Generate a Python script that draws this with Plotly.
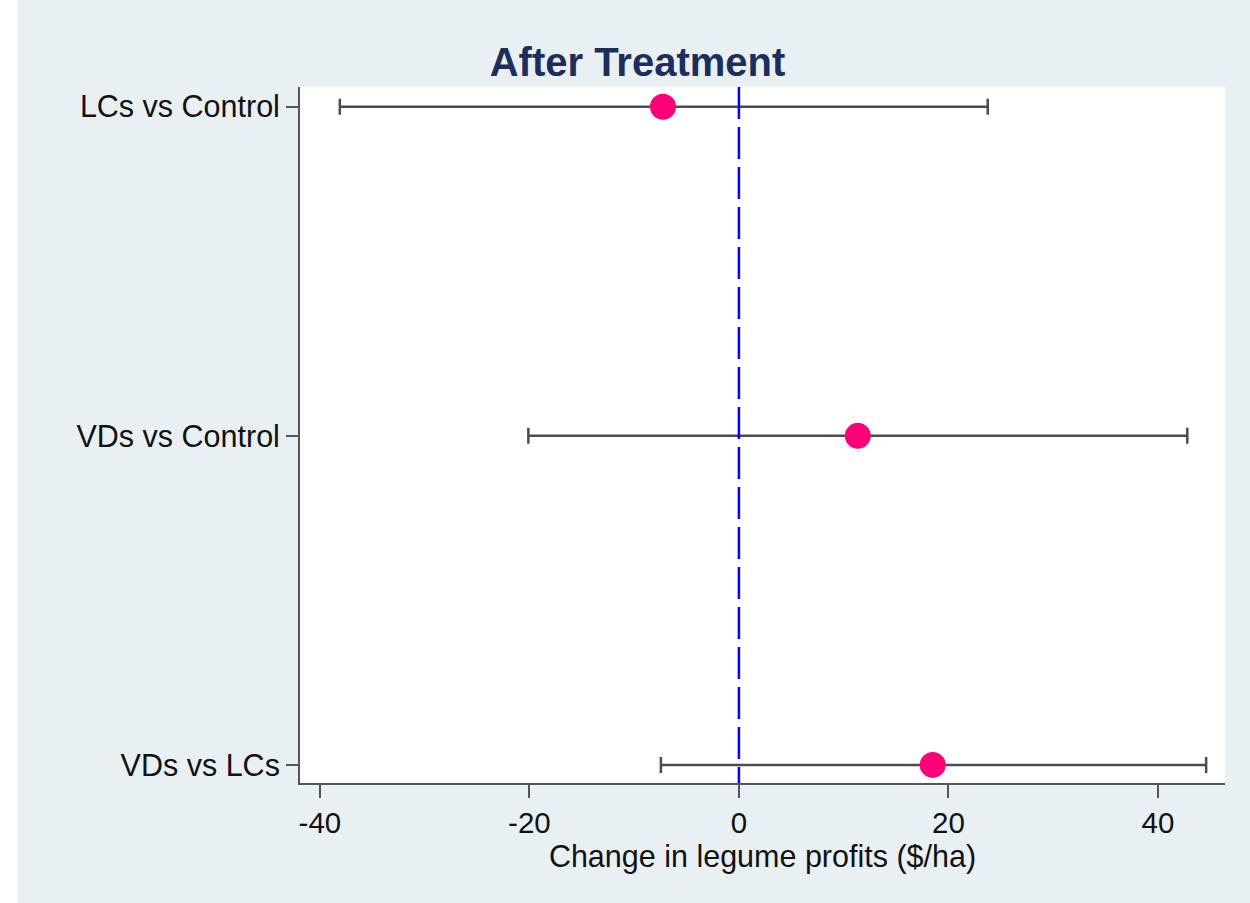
import plotly.graph_objects as go

# Contrasts (bottom to top), point estimates and 95% confidence bounds
categories = ["VDs vs LCs", "VDs vs Control", "LCs vs Control"]
estimates = [18.5, 11.35, -7.25]
lower = [-7.45, -20.1, -38.1]
upper = [44.6, 42.8, 23.75]

x_ticks = [-40, -20, 0, 20, 40]

W, H = 1250, 903
L, R, T, B = 300, 25, 87, 120

BG = "#e9f0f3"
AXIS = "#555555"
FONT = "Liberation Sans, Arial, sans-serif"

fig = go.Figure()

fig.add_trace(go.Scatter(
    x=estimates,
    y=categories,
    mode="markers",
    marker=dict(color="#ff0078", size=26, line=dict(width=0)),
    error_x=dict(
        type="data",
        symmetric=False,
        array=[u - e for u, e in zip(upper, estimates)],
        arrayminus=[e - lo for e, lo in zip(estimates, lower)],
        color="#4d4d4d",
        thickness=2.5,
        width=8,
    ),
    showlegend=False,
    hoverinfo="skip",
))

# reference line at zero
fig.add_shape(
    type="line", xref="x", yref="paper",
    x0=0, x1=0, y0=1, y1=0,
    line=dict(color="#0000ff", width=2.5, dash="32px,8px"),
    layer="above",
)

# white strips outside the graph region
pw = W - L - R
ph = H - T - B
fig.add_shape(type="rect", xref="paper", yref="paper",
              x0=-L / pw, x1=(18 - L) / pw, y0=-B / ph, y1=(H - T) / ph,
              fillcolor="white", line=dict(width=0), layer="below")
fig.add_shape(type="rect", xref="paper", yref="paper",
              x0=-L / pw, x1=(W - L) / pw, y0=(H - T - 5) / ph, y1=(H - T) / ph,
              fillcolor="white", line=dict(width=0), layer="below")

fig.update_layout(
    width=W, height=H,
    margin=dict(l=L, r=R, t=T, b=B),
    paper_bgcolor=BG,
    plot_bgcolor="white",
    font=dict(family=FONT, color="#111111"),
    title=dict(
        text="<b>After Treatment</b>",
        font=dict(family=FONT, size=40, color="#1c2f5c"),
        x=0.51, xref="container", xanchor="center",
        y=1 - 62 / H, yref="container", yanchor="middle",
    ),
    xaxis=dict(
        range=[-41.9, 46.4],
        tickvals=x_ticks,
        ticktext=[str(v) for v in x_ticks],
        tickfont=dict(size=29.5),
        ticks="outside", ticklen=13, tickwidth=2, tickcolor=AXIS,
        showline=True, linecolor=AXIS, linewidth=2,
        showgrid=False, zeroline=False,
        title=dict(text="Change in legume profits ($/ha)",
                   font=dict(size=30.5), standoff=4),
    ),
    yaxis=dict(
        type="category",
        categoryorder="array",
        categoryarray=categories,
        range=[-0.055, 2.06],
        tickfont=dict(size=30.5),
        ticks="outside", ticklen=12, tickwidth=2, tickcolor=AXIS,
        showline=True, linecolor=AXIS, linewidth=2,
        showgrid=False, zeroline=False,
    ),
)

fig.write_html("out.html")
